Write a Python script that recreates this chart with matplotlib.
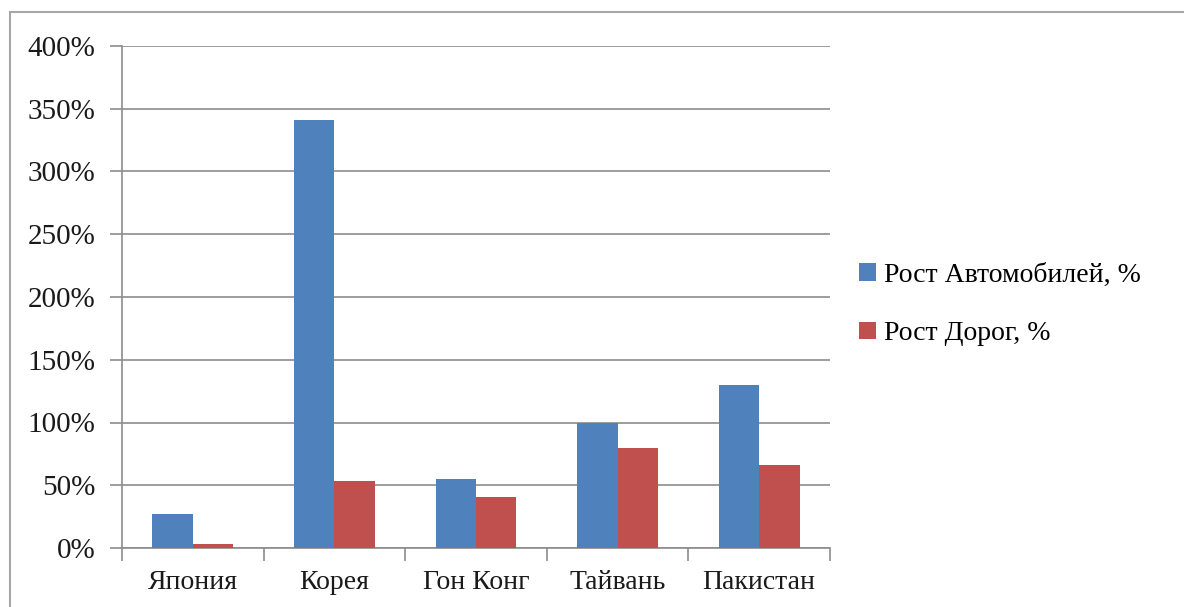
import matplotlib
matplotlib.use("Agg")
import matplotlib.pyplot as plt
from matplotlib.patches import Rectangle
from matplotlib.ticker import FuncFormatter, MultipleLocator
import numpy as np

categories = ["Япония", "Корея", "Гон Конг", "Тайвань", "Пакистан"]
cars = [27, 341, 55, 100, 130]
roads = [3, 53, 41, 80, 66]
series_names = ["Рост Автомобилей, %", "Рост Дорог, %"]
colors = ["#4F81BD", "#C0504D"]

plt.rcParams['font.family'] = ['Liberation Serif', 'DejaVu Serif']

fig = plt.figure(figsize=(11.84, 6.07), dpi=100)
W, H = 1184, 607
ax = fig.add_axes([122 / W, 1 - 548 / H, (830 - 122) / W, (548 - 46) / H])

x = np.arange(len(categories))
bw = 0.285
ax.bar(x - bw / 2, cars, bw, color=colors[0], label=series_names[0], zorder=3)
ax.bar(x + bw / 2, roads, bw, color=colors[1], label=series_names[1], zorder=3)

ax.set_xlim(-0.5, len(categories) - 0.5)
ax.set_ylim(0, 400)
ax.yaxis.set_major_locator(MultipleLocator(50))
ax.yaxis.set_major_formatter(FuncFormatter(lambda v, p: f"{int(v)}%"))
ax.grid(axis='y', color='#8c8c8c', linewidth=1.2, zorder=0)
for s in ['top', 'right']:
    ax.spines[s].set_visible(False)
for s in ['left', 'bottom']:
    ax.spines[s].set_color('#8c8c8c')
    ax.spines[s].set_linewidth(1.2)

ax.set_xticks(x)
ax.set_xticklabels(categories)
ax.tick_params(axis='x', length=0, pad=16, labelsize=20, colors='#1a1a1a')
ax.set_xticks(np.arange(-0.5, len(categories), 1.0), minor=True)
ax.tick_params(axis='x', which='minor', length=9, color='#8c8c8c', width=1.2)
ax.tick_params(axis='y', length=9, color='#8c8c8c', width=1.2, labelsize=21, pad=10, labelcolor='#1a1a1a')

leg = fig.legend(loc='upper left', bbox_to_anchor=(834 / W, 1 - 238 / H), frameon=False,
                 fontsize=20, handlelength=0.6, handleheight=0.6, handletextpad=0.3,
                 labelspacing=1.2)

# outer border (only top and left visible)
fig.patches.append(Rectangle((10 / W, -0.1), 1.2, 1 - 12 / H + 0.1, transform=fig.transFigure,
                             fill=False, edgecolor='#a6a6a6', linewidth=1.5))

fig.savefig("out.png", dpi=100)
